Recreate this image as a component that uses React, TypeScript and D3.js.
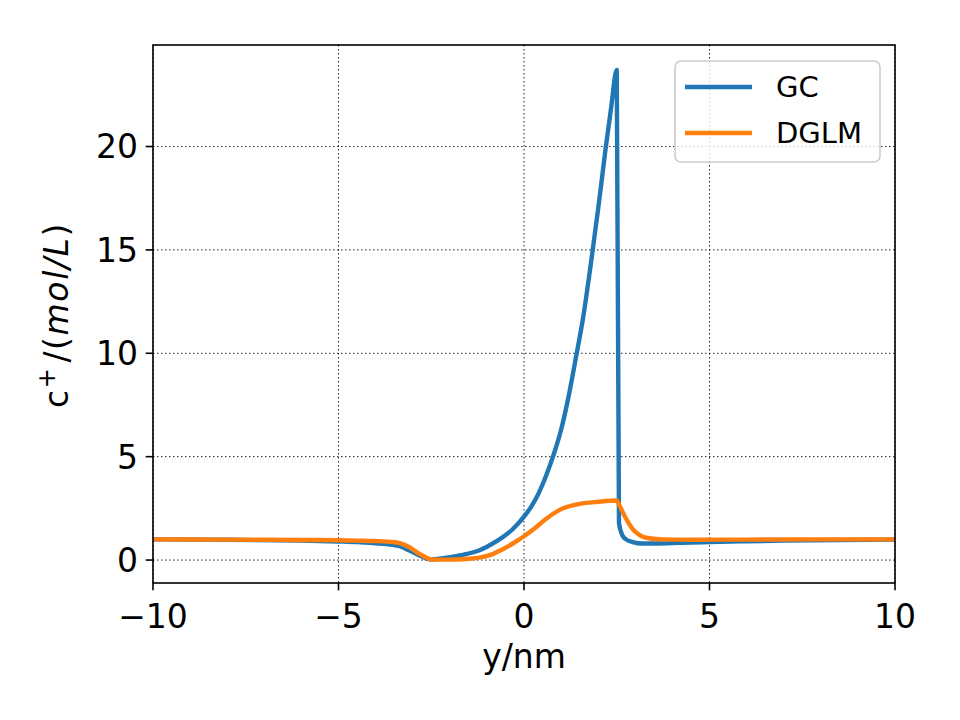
import React from 'react';
import * as d3 from 'd3';

// GC series (y in nm, c+ in mol/L)
const gcX = [-10, -8, -6, -5, -4.5, -4, -3.6, -3.35, -3.1, -2.82, -2.6, -2.5, -2.3, -2.1, -1.65, -1.2, -0.75, -0.3, 0, 0.2, 0.4, 0.6, 0.8, 1.0, 1.2, 1.4, 1.6, 1.8, 2.0, 2.2, 2.35, 2.5, 2.56, 2.65, 2.75, 2.93, 3.2, 3.6, 4.2, 5, 6, 7, 8.5, 10];
const gcY = [1.0, 0.98, 0.94, 0.9, 0.87, 0.81, 0.75, 0.67, 0.47, 0.22, 0.06, 0.03, 0.06, 0.11, 0.25, 0.47, 0.9, 1.5, 2.1, 2.6, 3.25, 4.1, 5.1, 6.3, 7.9, 9.8, 11.8, 14.3, 17.0, 19.9, 21.9, 23.7, 1.8, 1.2, 1.0, 0.87, 0.8, 0.8, 0.83, 0.87, 0.91, 0.94, 0.97, 0.99];

// DGLM series
const dglmX = [-10, -8, -6, -5, -4.5, -4, -3.6, -3.35, -3.1, -2.82, -2.64, -2.5, -2.2, -1.8, -1.5, -1.2, -0.9, -0.6, -0.3, 0, 0.3, 0.6, 1.05, 1.5, 2.0, 2.5, 2.57, 2.75, 2.93, 3.11, 3.29, 3.74, 4.5, 6, 8, 10];
const dglmY = [1.0, 0.99, 0.97, 0.96, 0.94, 0.92, 0.88, 0.82, 0.63, 0.3, 0.12, 0.03, 0.02, 0.03, 0.06, 0.12, 0.25, 0.5, 0.8, 1.15, 1.55, 2.0, 2.5, 2.72, 2.82, 2.88, 2.65, 2.0, 1.5, 1.22, 1.08, 1.0, 0.98, 0.99, 1.0, 1.0];

const xTicks = [-10, -5, 0, 5, 10];
const yTicks = [0, 5, 10, 15, 20];
const seriesNames = ['GC', 'DGLM'];
const seriesColors = ['#1f77b4', '#ff7f0e'];

const W = 960;
const H = 720;
const left = 153, right = 895, top = 45, bottom = 583;

export default function App() {
  const x = d3.scaleLinear().domain([-10, 10]).range([left, right]);
  const y = d3.scaleLinear().domain([-1.11, 24.91]).range([bottom, top]);

  const line = d3.line<[number, number]>()
    .x(d => x(d[0]))
    .y(d => y(d[1]))
    .curve(d3.curveMonotoneX);

  const gcPts = gcX.map((v, i) => [v, gcY[i]] as [number, number]);
  const dglmPts = dglmX.map((v, i) => [v, dglmY[i]] as [number, number]);
  const paths = [line(gcPts), line(dglmPts)];

  const font = 'DejaVu Sans, sans-serif';

  return (
    <svg width={W} height={H} style={{ position: 'absolute', left: 0, top: 0, background: '#fff' }}
      fontFamily={font}>
      <rect x={0} y={0} width={W} height={H} fill="#fff" />
      <defs>
        <clipPath id="plot">
          <rect x={left} y={top} width={right - left} height={bottom - top} />
        </clipPath>
      </defs>

      {/* grid */}
      {xTicks.map(t => (
        <line key={'gx' + t} x1={x(t)} x2={x(t)} y1={top} y2={bottom}
          stroke="#222" strokeWidth={1} strokeDasharray="1.5,2.5" />
      ))}
      {yTicks.map(t => (
        <line key={'gy' + t} x1={left} x2={right} y1={y(t)} y2={y(t)}
          stroke="#222" strokeWidth={1} strokeDasharray="1.5,2.5" />
      ))}

      {/* lines */}
      <g clipPath="url(#plot)">
        {paths.map((d, i) => (
          <path key={i} d={d || ''} fill="none" stroke={seriesColors[i]}
            strokeWidth={4.4} strokeLinejoin="round" strokeLinecap="square" />
        ))}
      </g>

      {/* spines */}
      <rect x={left} y={top} width={right - left} height={bottom - top}
        fill="none" stroke="#000" strokeWidth={1.6} />

      {/* x ticks */}
      {xTicks.map(t => (
        <g key={'xt' + t}>
          <line x1={x(t)} x2={x(t)} y1={bottom} y2={bottom + 7.3} stroke="#000" strokeWidth={1.6} />
          <text x={x(t)} y={628} fontSize={33} textAnchor="middle" fill="#000">
            {t < 0 ? '\u2212' + Math.abs(t) : t}
          </text>
        </g>
      ))}

      {/* y ticks */}
      {yTicks.map(t => (
        <g key={'yt' + t}>
          <line x1={left - 7.3} x2={left} y1={y(t)} y2={y(t)} stroke="#000" strokeWidth={1.6} />
          <text x={138} y={y(t)} dy="0.36em" fontSize={33} textAnchor="end" fill="#000">{t}</text>
        </g>
      ))}

      {/* axis labels */}
      <text x={(left + right) / 2} y={668} fontSize={33} textAnchor="middle" fill="#000">y/nm</text>
      <text transform="translate(68,315) rotate(-90)" fontSize={33}
        textAnchor="middle" fill="#000" letterSpacing={1.6}>
        c<tspan dy={-13} fontSize={24}>+</tspan><tspan dy={13} dx={4}>/(</tspan>
        <tspan fontStyle="italic">mol/L</tspan>)
      </text>

      {/* legend */}
      <g>
        <rect x={675} y={61} width={205} height={101} rx={6} ry={6}
          fill="#fff" fillOpacity={0.8} stroke="#cccccc" strokeWidth={1.6} />
        {seriesNames.map((name, i) => (
          <g key={name}>
            <line x1={685} x2={752} y1={87 + i * 46} y2={87 + i * 46}
              stroke={seriesColors[i]} strokeWidth={4.4} />
            <text x={776} y={87 + i * 46} dy="0.36em" fontSize={29} fill="#000">{name}</text>
          </g>
        ))}
      </g>
    </svg>
  );
}
